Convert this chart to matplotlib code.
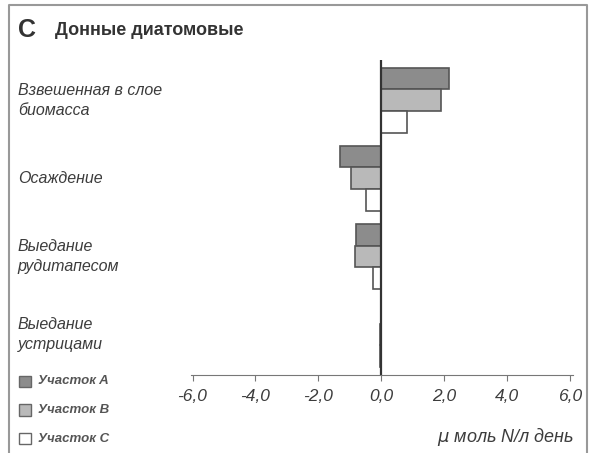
import numpy as np
import matplotlib.pyplot as plt
from matplotlib.patches import Rectangle
from matplotlib.transforms import blended_transform_factory

plt.rcParams['font.family'] = ['Liberation Sans', 'DejaVu Sans']

# данные
kategorii = ['Взвешенная в слое\nбиомасса', 'Осаждение',
             'Выедание\nрудитапесом', 'Выедание\nустрицами']
uchastok_A = [2.15, -1.3, -0.8, -0.02]
uchastok_B = [1.9, -0.95, -0.85, -0.05]
uchastok_C = [0.8, -0.5, -0.28, -0.03]
serii = ['Участок A', 'Участок B', 'Участок C']
x_tiki = [-6.0, -4.0, -2.0, 0.0, 2.0, 4.0, 6.0]

tekst = '#3c3c3c'
cveta = ['#8c8c8c', '#b9b9b9', '#ffffff']
kant = '#555555'

fig = plt.figure(figsize=(5.93, 4.53), dpi=100)
ax = fig.add_axes([0.322, 0.172, 0.645, 0.696])

y = np.arange(len(kategorii))
h = 0.28
for i, (vals, c) in enumerate(zip([uchastok_A, uchastok_B, uchastok_C], cveta)):
    ax.barh(y + (i - 1) * h, vals, height=h, color=c, edgecolor=kant, linewidth=1.2)

ax.set_xlim(-6.05, 6.1)
ax.set_ylim(3.52, -0.52)
ax.axvline(0, color='#333333', linewidth=1.6)

for s in ['top', 'right', 'left']:
    ax.spines[s].set_visible(False)
ax.spines['bottom'].set_color('#777777')
ax.set_yticks([])
ax.set_xticks(x_tiki)
ax.set_xticklabels([f'{v:.1f}'.replace('.', ',') for v in x_tiki],
                   fontsize=12.5, style='italic', color=tekst)
ax.tick_params(axis='x', length=4, color='#777777', pad=6)

# подписи категорий
tr = blended_transform_factory(fig.transFigure, ax.transData)
for yy, k in zip(y, kategorii):
    ax.text(0.03, yy, k, transform=tr, ha='left', va='center', fontsize=11.5,
            style='italic', color=tekst, linespacing=1.45)

# заголовок
fig.text(0.03, 0.933, 'C', fontsize=18, fontweight='bold', color='#333333', va='center')
fig.text(0.093, 0.933, 'Донные диатомовые', fontsize=13, fontweight='bold',
         color='#333333', va='center')

# единицы
fig.text(0.968, 0.035, r'$\mu$ моль N/л день', fontsize=13, style='italic',
         color=tekst, ha='right', va='center')

# легенда
for i, (s, c) in enumerate(zip(serii, cveta)):
    yl = 0.158 - i * 0.063
    fig.patches.append(Rectangle((0.032, yl - 0.013), 0.02, 0.026, transform=fig.transFigure,
                                 facecolor=c, edgecolor='#666666', linewidth=1))
    fig.text(0.064, yl, s, fontsize=9.5, style='italic', fontweight='bold',
             color='#555555', va='center')

# рамка
fig.add_artist(plt.Line2D([0.016, 0.016, 0.99, 0.99], [-0.1, 0.989, 0.989, -0.1],
                          transform=fig.transFigure, color='#999999', linewidth=1.5))

plt.savefig('out.png', dpi=100)
